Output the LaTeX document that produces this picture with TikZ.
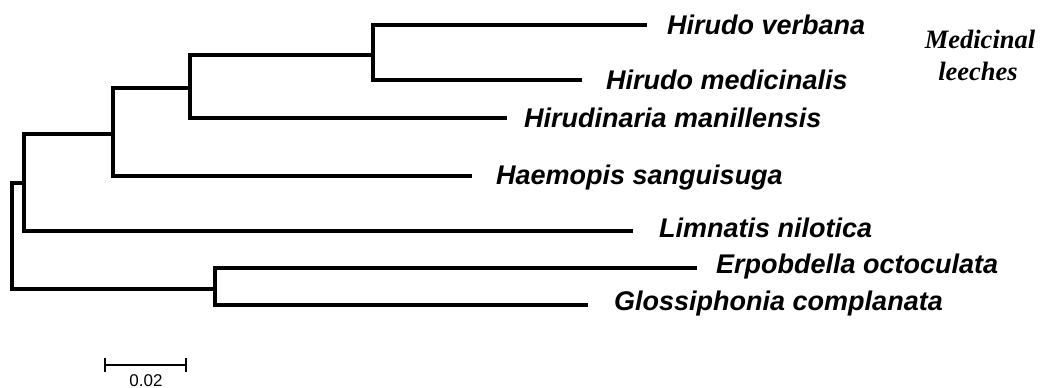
\documentclass[tikz,border=0pt]{standalone}
\usepackage{fontspec}
\newfontfamily\labfont{Liberation Sans}
\newfontfamily\notefont{Liberation Serif}
\begin{document}
\begin{tikzpicture}[x=1pt,y=-1pt,
  branch/.style={line width=4.4pt,line join=miter},
  taxon/.style={anchor=base west,inner sep=0pt,font=\labfont\bfseries\itshape\fontsize{27}{30}\selectfont},
  note/.style={align=center,inner sep=0pt,font=\notefont\bfseries\itshape\fontsize{26.5}{30}\selectfont},
  scalebar/.style={line width=1.8pt}]
\useasboundingbox[fill=white] (0,0) rectangle (1044,388);
% internal nodes
\coordinate (R) at (12,236);
\coordinate (A) at (24,183);
\coordinate (B) at (113,134);
\coordinate (C) at (190,88);
\coordinate (D) at (373,55);
\coordinate (E) at (215,289);
% leaf ends
\coordinate (t1) at (647,25);
\coordinate (t2) at (582,80);
\coordinate (t3) at (507,118);
\coordinate (t4) at (472,176);
\coordinate (t5) at (633,231);
\coordinate (t6) at (697,268);
\coordinate (t7) at (588,305);
% branches
\draw[branch] (t1) -| (D) |- (t2);
\draw[branch] (D) -| (C) |- (t3);
\draw[branch] (C) -| (B) |- (t4);
\draw[branch] (B) -| (A) |- (t5);
\draw[branch] (A) -| (R) |- (E);
\draw[branch] (t6) -| (E) |- (t7);
% labels
\node[taxon] (l1) at (667,34) {Hirudo verbana};
\node[taxon] (l2) at (606,89) {Hirudo medicinalis};
\node[taxon] (l3) at (524,127) {Hirudinaria manillensis};
\node[taxon] (l4) at (496,184) {Haemopis sanguisuga};
\node[taxon] (l5) at (659,237) {Limnatis nilotica};
\node[taxon] (l6) at (716,273) {Erpobdella octoculata};
\node[taxon] (l7) at (614,310) {Glossiphonia complanata};
\node[note,anchor=base] (m1) at (980,48) {Medicinal};
\node[note,anchor=base] (m2) at (978,80) {leeches};
% scale bar
\coordinate (s1) at (105,365);
\coordinate (s2) at (186,365);
\draw[scalebar] (s1) -- (s2);
\draw[scalebar] ([yshift=-7]s1) -- ([yshift=7]s1);
\draw[scalebar] ([yshift=-7]s2) -- ([yshift=7]s2);
\node[anchor=base,inner sep=0pt,font=\labfont\fontsize{17}{20}\selectfont] (sl) at (146,386) {0.02};
\end{tikzpicture}
\end{document}
